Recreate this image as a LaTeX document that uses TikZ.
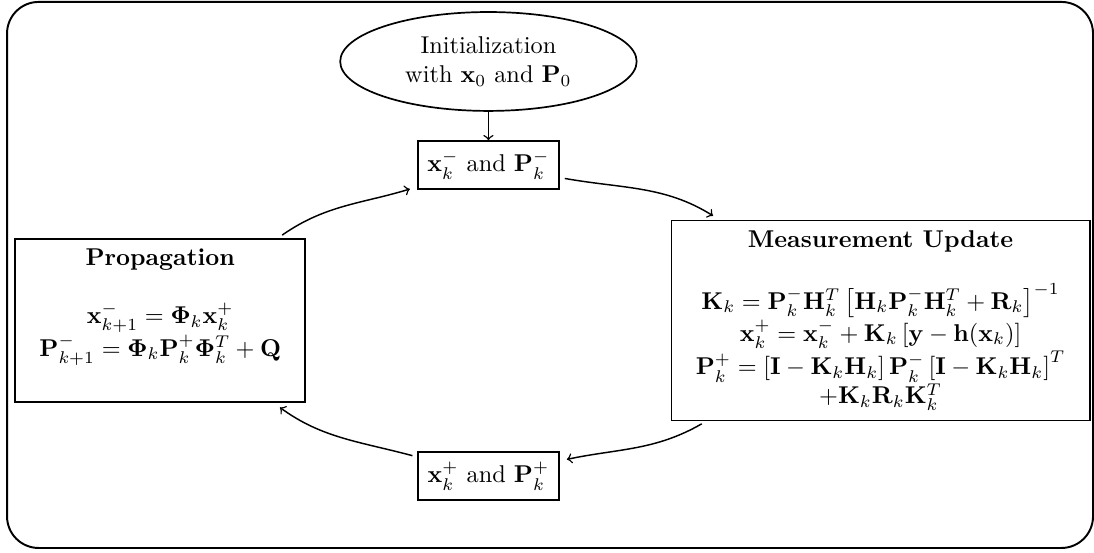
\documentclass[tikz,border=0pt]{standalone}
\usepackage{bm}
\usepackage{amsmath}
\usetikzlibrary{positioning,shapes.geometric}

\begin{document}
\begin{tikzpicture}[->,shorten >=3pt,shorten <=2pt,auto,node distance=3cm,semithick,
	init node/.style={ellipse,draw,line width=0.7pt,align=center,minimum width=122pt,minimum height=40.7pt,inner sep=1pt},
	state node/.style={rectangle,draw,line width=0.7pt,inner sep=4pt},
	block node/.style={rectangle,draw,line width=0.7pt,align=center,inner xsep=10pt,inner ysep=4pt}]
	
	\useasboundingbox (-201pt,25.3pt) rectangle (249.2pt,-201.9pt);
	\draw[-,thick,rounded corners=13pt] (-198.1pt,24.5pt) rectangle (248.8pt,-200.2pt);
	
	\node[init node] (init) {Initialization\\with $\mathbf{x}_0$ and $\mathbf{P}_0$};
	\node[state node] (xminus) [below of=init,node distance=42.6pt] {$\mathbf{x}_k^-$ and $\mathbf{P}_k^-$};
	\coordinate[below of=xminus,node distance=64pt] (mid);
	\node[block node] (prop) [left=75pt of mid] {\textbf{Propagation}\\[12pt]
		$\mathbf{x}_{k+1}^- = \bm{\Phi}_k\mathbf{x}_k^+$\\
		$\mathbf{P}_{k+1}^- = \bm{\Phi}_k\mathbf{P}_k^+\bm{\Phi}_k^T + \mathbf{Q}$\\[3pt]\mbox{}};
	\node[block node] (meas) [right=75pt of mid] {\textbf{Measurement Update}\\[12pt]
		$\mathbf{K}_k = \mathbf{P}_k^-\mathbf{H}_k^T\left[\mathbf{H}_k\mathbf{P}_k^-\mathbf{H}_k^T + \mathbf{R}_k\right]^{-1}$\\
		$\mathbf{x}_k^+ = \mathbf{x}_k^- + \mathbf{K}_k\left[\mathbf{y} - \mathbf{h}(\mathbf{x}_k)\right]$\\
		$\mathbf{P}_k^+ = \left[\mathbf{I} - \mathbf{K}_k\mathbf{H}_k\right]\mathbf{P}_k^-\left[\mathbf{I} - \mathbf{K}_k\mathbf{H}_k\right]^T$\\
		$+\mathbf{K}_k\mathbf{R}_k\mathbf{K}_k^T$};
	\node[state node] (xplus) [below of=mid,node distance=64pt] {$\mathbf{x}_k^+$ and $\mathbf{P}_k^+$};
	
	\path
	(init) edge [shorten <=0pt,shorten >=0pt] (xminus)
	(xminus) edge [out=-10,in=148] (meas)
	(meas) edge [out=210,in=12] (xplus)
	(xplus) edge [out=165,in=-36] (prop)
	(prop) edge [out=35,in=197] (xminus)
	;
\end{tikzpicture}
\end{document}
